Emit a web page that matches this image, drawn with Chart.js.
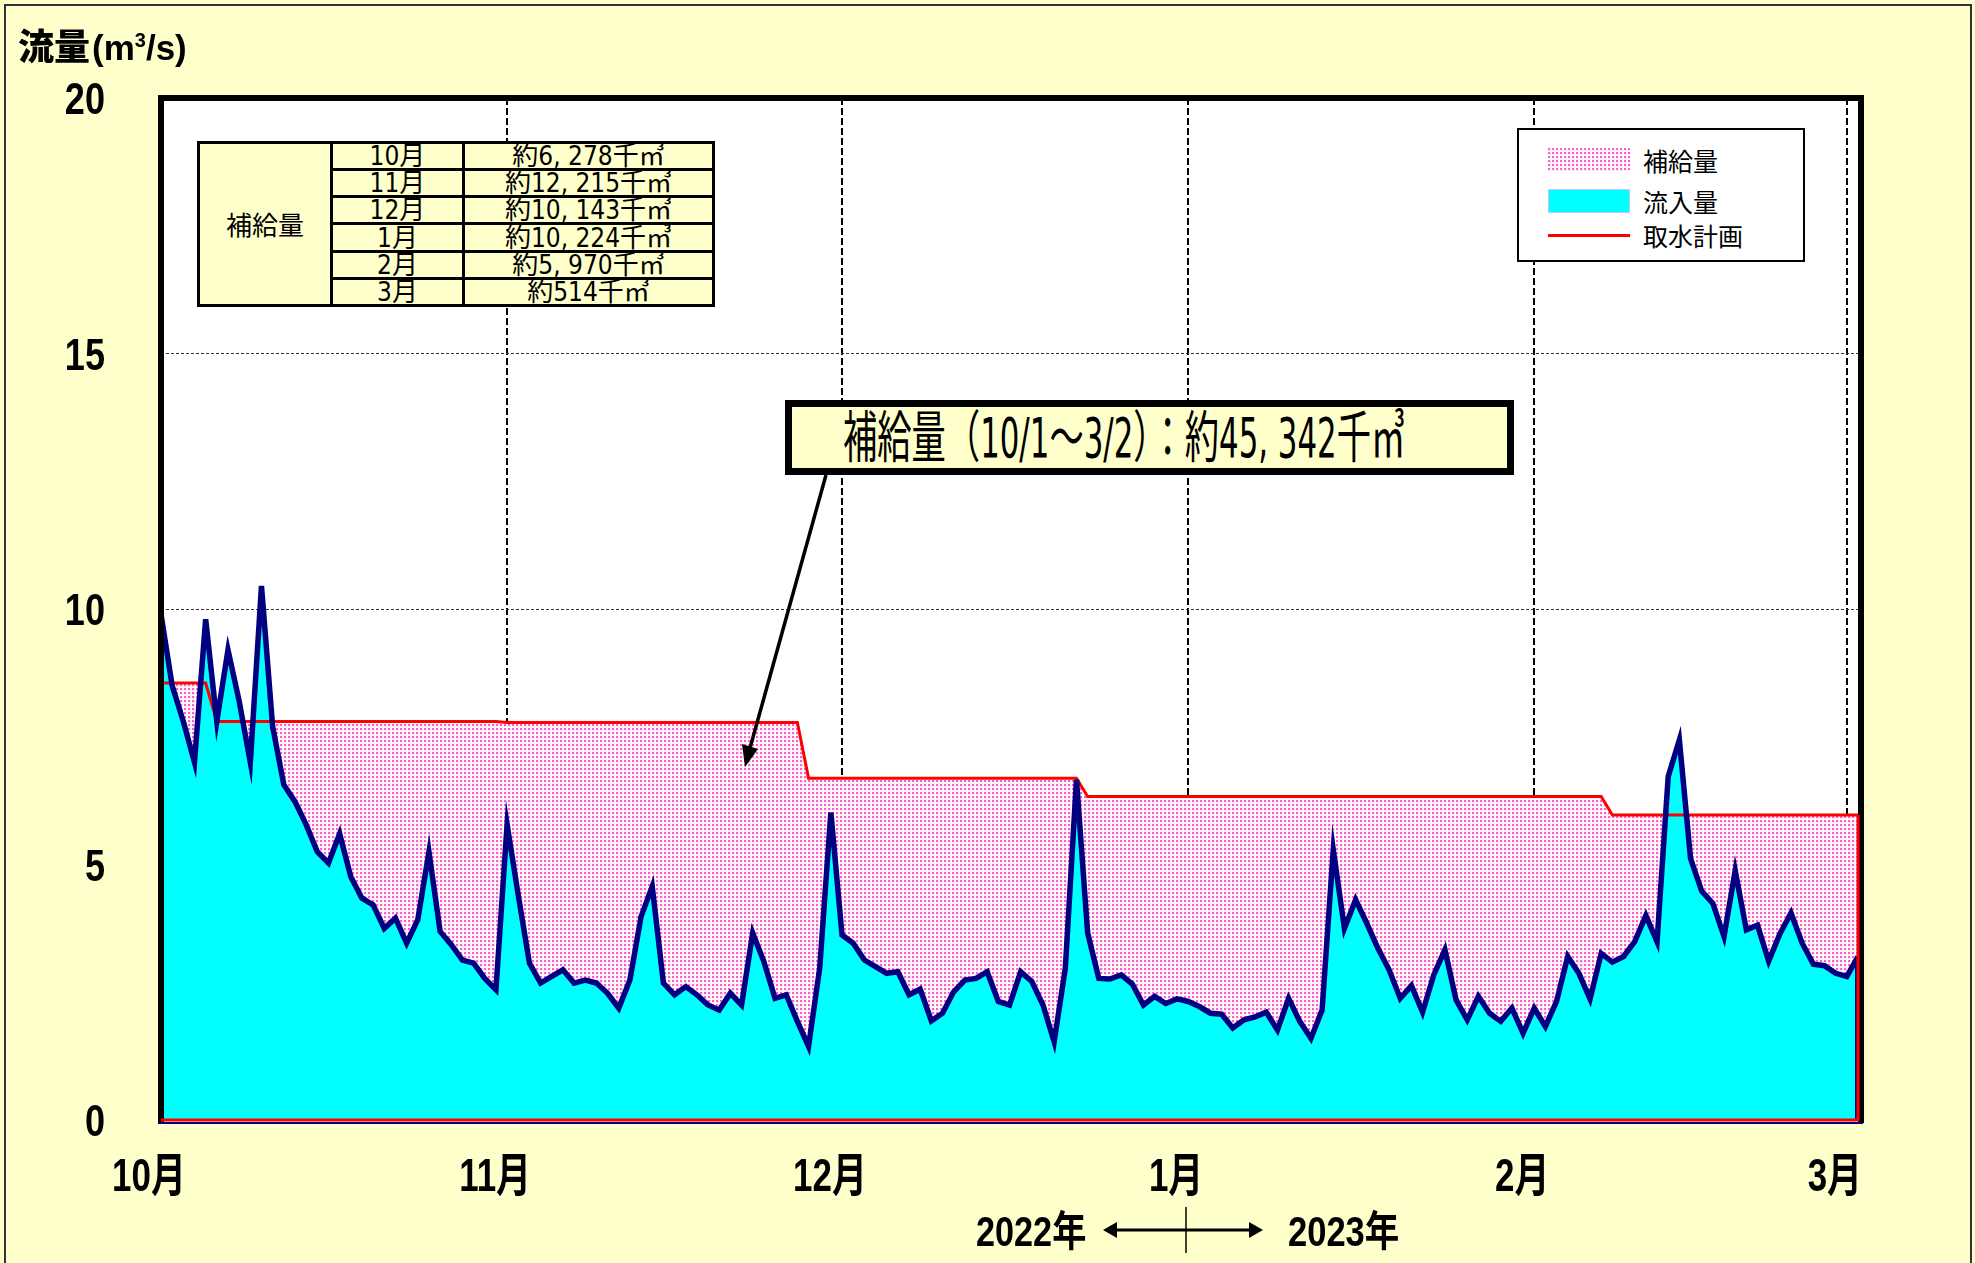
<!DOCTYPE html>
<html lang="ja">
<head>
<meta charset="utf-8">
<title>流量・補給量</title>
<script src="https://cdn.jsdelivr.net/npm/chart.js@4.4.0/dist/chart.umd.min.js"></script>
<style>
  html, body { margin: 0; padding: 0; }
  body {
    width: 1975px; height: 1263px; position: relative; overflow: hidden;
    background: #ffffcc; color: #000;
    font-family: "Liberation Sans Narrow", "DejaVu Sans Condensed", "Noto Sans CJK JP", sans-serif;
  }
  #outer { position: absolute; left: 4px; top: 4px; width: 1968px; height: 1300px;
           border: 2px solid #333; box-sizing: border-box; }
  #wrap { position: absolute; left: 0; top: 0; width: 1975px; height: 1263px; }
  .ov { position: absolute; z-index: 2; white-space: nowrap; }
  .fit { display: inline-block; transform-origin: left center; }

  #ytitle { left: 18px; top: 22px; font-size: 36px; line-height: 44px; }
  #ytitle .cjk { font-family: "Noto Sans CJK JP", sans-serif; font-weight: 900; }
  #ytitle .unit { font-family: "Liberation Sans", sans-serif; font-weight: bold; font-size: 35px; margin-left: 2px; }
  #ytitle sup { font-size: 20px; vertical-align: 13px; line-height: 0; }

  #supply { left: 197px; top: 141px; width: 518px; height: 166px; border-collapse: collapse;
            table-layout: fixed; background: #ffffcc; font-size: 26px; }
  #supply td { border: 3px solid #000; padding: 0; text-align: center; line-height: 22px; height: 21px; }
  #supply td.head { font-family: "Noto Sans CJK JP", sans-serif; font-size: 26px; }

  #legend { left: 1517px; top: 128px; width: 288px; height: 134px; border: 2px solid #000;
            box-sizing: border-box; background: #fff; }
  #legend .sw { position: absolute; left: 29px; width: 82px; height: 24px; }
  #legend .lb { position: absolute; left: 124px; font-family: "Noto Sans CJK JP", sans-serif;
                font-size: 25px; line-height: 28px; }

  #callout { left: 785px; top: 400px; width: 729px; height: 75px; border: 7px solid #000;
             box-sizing: border-box; background: #ffffcc; display: flex; align-items: center; }
  #callout span { margin-left: 51px; font-size: 56px; line-height: 60px; }

  .year { top: 1209px; font-family: "Liberation Sans", "Noto Sans CJK JP", sans-serif;
          font-size: 42px; font-weight: bold; line-height: 46px; }
  #annot { position: absolute; left: 0; top: 0; z-index: 3; pointer-events: none; }
</style>
</head>
<body>
<div id="outer"></div>
<div id="wrap"><canvas id="flowChart"></canvas></div>

<div id="ytitle" class="ov"><span class="cjk">流量</span><span class="unit">(m<sup>3</sup>/s)</span></div>
<table id="supply" class="ov"><tbody id="supplyBody"></tbody></table>
<div id="legend" class="ov"></div>
<div id="callout" class="ov"><span id="calloutText" class="fit" data-w="562"></span></div>
<div class="ov year" style="left:976px"><span id="y2022" class="fit" data-w="110"></span></div>
<div class="ov year" style="left:1288px"><span id="y2023" class="fit" data-w="111"></span></div>

<svg id="annot" width="1975" height="1263">
  <!-- callout arrow -->
  <line x1="826" y1="475" x2="750" y2="748" stroke="#000" stroke-width="3.5"/>
  <polygon points="745,767 758,749 742,744" fill="#000"/>
  <!-- year divider -->
  <line x1="1114" y1="1230" x2="1252" y2="1230" stroke="#000" stroke-width="3"/>
  <polygon points="1103,1230 1117,1222 1117,1238" fill="#000"/>
  <polygon points="1263,1230 1249,1222 1249,1238" fill="#000"/>
  <line x1="1186" y1="1207" x2="1186" y2="1253" stroke="#000" stroke-width="1.5"/>
</svg>

<script>
// Daily inflow (m3/s), 2022-10-01 .. 2023-03-02, one value per day
const INFLOW = [
  9.9, 8.5, 7.8, 7.0, 9.8, 7.8, 9.2, 8.2, 7.0, 10.45,
  7.7, 6.56, 6.23, 5.78, 5.25, 5.03, 5.6, 4.76, 4.34, 4.21,
  3.75, 3.95, 3.46, 3.92, 5.25, 3.69, 3.43, 3.13, 3.07, 2.77,
  2.55, 5.78, 4.4, 3.07, 2.68, 2.81, 2.94, 2.68, 2.74, 2.68,
  2.48, 2.19, 2.74, 3.98, 4.57, 2.68, 2.45, 2.61, 2.45, 2.25,
  2.15, 2.48, 2.25, 3.66, 3.10, 2.38, 2.45, 1.93, 1.44, 2.97,
  6.02, 3.62, 3.46, 3.13, 3.00, 2.87, 2.90, 2.45, 2.56, 1.94,
  2.09, 2.51, 2.74, 2.77, 2.90, 2.32, 2.25, 2.90, 2.71, 2.25,
  1.53, 2.97, 6.66, 3.66, 2.77, 2.76, 2.84, 2.66, 2.25, 2.42,
  2.28, 2.37, 2.32, 2.22, 2.09, 2.07, 1.80, 1.96, 2.02, 2.11,
  1.76, 2.38, 1.93, 1.60, 2.15, 5.29, 3.75, 4.31, 3.85, 3.36,
  2.94, 2.38, 2.63, 2.11, 2.84, 3.33, 2.35, 1.96, 2.42, 2.09,
  1.93, 2.19, 1.70, 2.19, 1.83, 2.32, 3.20, 2.87, 2.37, 3.26,
  3.09, 3.20, 3.49, 4.00, 3.49, 6.72, 7.44, 5.12, 4.48, 4.24,
  3.59, 4.88, 3.72, 3.81, 3.11, 3.64, 4.05, 3.46, 3.05, 3.02,
  2.87, 2.81, 3.20
];

// Intake plan (取水計画): breakpoints as day index / value
const PLAN_DAYS   = [0,    4,    5,    30,   31,   57,   58,   82,   83,   129,  130,  152];
const PLAN_VALUES = [8.55, 8.55, 7.80, 7.80, 7.78, 7.78, 6.69, 6.69, 6.33, 6.33, 5.97, 5.97];

const MONTH_STARTS = [0, 31, 61, 92, 123, 151];
const MONTH_LABELS = ['10月', '11月', '12月', '1月', '2月', '3月'];
const Y_TICKS = [0, 5, 10, 15, 20];

const SUPPLY_MONTHS = ['10月', '11月', '12月', '1月', '2月', '3月'];
const SUPPLY_TEXT = ['約6, 278千㎥', '約12, 215千㎥', '約10, 143千㎥', '約10, 224千㎥', '約5, 970千㎥', '約514千㎥'];
const SUPPLY_TOTAL = '補給量（10/1～3/2）：約45, 342千㎥';
const LEGEND_LABELS = ['補給量', '流入量', '取水計画'];
const YEAR_LABELS = ['2022年', '2023年'];

const NAVY = '#000080';
const CYAN = '#00ffff';
const RED = '#ff0000';
const TICK_FONT = 'bold 44px "Liberation Sans", "Noto Sans CJK JP", sans-serif';
const MONTH_FONT = 'bold 46px "Liberation Sans", "Noto Sans CJK JP", sans-serif';

// pink dotted fill, like Excel's small-dot pattern
function makeDotTile() {
    const c = document.createElement('canvas');
    c.width = 4; c.height = 4;
    const g = c.getContext('2d');
    g.fillStyle = '#ffe4f4';
    g.fillRect(0, 0, 4, 4);
    g.fillStyle = '#ffffff';
    g.fillRect(3, 0, 1, 4);
    g.fillRect(0, 3, 4, 1);
    g.fillStyle = '#ff5fcc';
    g.fillRect(0, 0, 2, 2);
    return c;
}
const dotTile = makeDotTile();
const dotPattern = document.createElement('canvas').getContext('2d').createPattern(dotTile, 'repeat');

// ---- HTML parts: table, legend, callout, years ----
const body = document.getElementById('supplyBody');
SUPPLY_MONTHS.forEach((m, i) => {
    const tr = document.createElement('tr');
    if (i === 0) {
        const h = document.createElement('td');
        h.rowSpan = SUPPLY_MONTHS.length;
        h.className = 'head';
        h.textContent = '補給量';
        h.style.width = '130px';
        tr.appendChild(h);
    }
    const a = document.createElement('td');
    a.textContent = m;
    if (i === 0) a.style.width = '129px';
    const b = document.createElement('td');
    b.textContent = SUPPLY_TEXT[i];
    tr.append(a, b);
    body.appendChild(tr);
});

const legend = document.getElementById('legend');
const swTop = [18, 59, 104];
LEGEND_LABELS.forEach((t, i) => {
    const sw = document.createElement('div');
    sw.className = 'sw';
    sw.style.top = swTop[i] + 'px';
    if (i === 0) {
        sw.style.backgroundImage = 'url(' + dotTile.toDataURL() + ')';
    } else if (i === 1) {
        sw.style.background = CYAN;
        sw.style.boxShadow = 'inset 0 0 0 1px #b8c8ff';
    } else {
        sw.style.height = '3px';
        sw.style.background = RED;
    }
    legend.appendChild(sw);
    const lb = document.createElement('div');
    lb.className = 'lb';
    lb.style.top = (i === 2 ? swTop[i] - 13 : swTop[i] - 2) + 'px';
    lb.textContent = t;
    legend.appendChild(lb);
});

document.getElementById('calloutText').textContent = SUPPLY_TOTAL;
document.getElementById('y2022').textContent = YEAR_LABELS[0];
document.getElementById('y2023').textContent = YEAR_LABELS[1];

// the source uses a squeezed font; squeeze each text to its measured width
function fitAll() {
    document.querySelectorAll('.fit').forEach(el => {
        el.style.transform = 'none';
        el.style.transform = 'scaleX(' + (+el.dataset.w / el.offsetWidth) + ')';
    });
}
fitAll();
if (document.fonts) document.fonts.ready.then(fitAll);

// ---- chart ----
const plotBackground = {
    id: 'plotBackground',
    beforeDraw(chart) {
        const { ctx, chartArea: a } = chart;
        ctx.save();
        ctx.fillStyle = '#ffffff';
        ctx.fillRect(a.left, a.top, a.right - a.left, a.bottom - a.top);
        ctx.restore();
    }
};

// thick frame round the plot, then the area outlines on the bottom / right edges
const plotFrame = {
    id: 'plotFrame',
    afterDatasetsDraw(chart) {
        const { ctx, chartArea: a, scales } = chart;
        ctx.save();
        ctx.strokeStyle = '#000';
        ctx.lineWidth = 6;
        ctx.beginPath();
        ctx.moveTo(a.left, a.bottom + 3);
        ctx.lineTo(a.left, a.top);
        ctx.lineTo(a.right + 3, a.top);
        ctx.lineTo(a.right + 3, a.bottom + 3);
        ctx.stroke();

        const yPlan = scales.y.getPixelForValue(PLAN_VALUES[PLAN_VALUES.length - 1]);
        const yIn = scales.y.getPixelForValue(INFLOW[INFLOW.length - 1]);
        ctx.strokeStyle = NAVY;
        ctx.lineWidth = 2;
        ctx.beginPath();
        ctx.moveTo(a.right - 2, yIn);
        ctx.lineTo(a.right - 2, a.bottom);
        ctx.moveTo(a.left - 3, a.bottom + 3);
        ctx.lineTo(a.right + 5, a.bottom + 3);
        ctx.stroke();
        ctx.strokeStyle = RED;
        ctx.lineWidth = 3;
        ctx.beginPath();
        ctx.moveTo(a.right, yPlan);
        ctx.lineTo(a.right, a.bottom);
        ctx.lineTo(a.left, a.bottom);
        ctx.stroke();
        ctx.restore();
    }
};

// tick labels in a horizontally squeezed face, placed on the axes' own tick positions
function squeezedText(ctx, text, x, y, sx, align) {
    ctx.save();
    ctx.translate(x, y);
    ctx.scale(sx, 1);
    ctx.textAlign = align;
    ctx.textBaseline = 'middle';
    ctx.fillText(text, 0, 0);
    ctx.restore();
}
const squeezedTicks = {
    id: 'squeezedTicks',
    afterDraw(chart) {
        const { ctx, chartArea: a, scales } = chart;
        ctx.save();
        ctx.fillStyle = '#000';
        ctx.font = TICK_FONT;
        scales.y.ticks.forEach(t => {
            squeezedText(ctx, String(t.value), a.left - 56, scales.y.getPixelForValue(t.value) + 4, 0.82, 'right');
        });
        ctx.font = MONTH_FONT;
        scales.x.ticks.forEach((t, i) => {
            squeezedText(ctx, MONTH_LABELS[i], scales.x.getPixelForValue(t.value) - 12, a.bottom + 58, 0.76, 'center');
        });
        ctx.restore();
    }
};

new Chart(document.getElementById('flowChart'), {
    type: 'line',
    data: {
        datasets: [
            {
                label: '流入量',
                data: INFLOW.map((v, i) => ({ x: i, y: v })),
                fill: 'origin',
                backgroundColor: CYAN,
                borderColor: NAVY,
                borderWidth: 5.5,
                pointRadius: 0,
                tension: 0
            },
            {
                label: '取水計画',
                data: PLAN_DAYS.map((d, i) => ({ x: d, y: PLAN_VALUES[i] })),
                fill: 'origin',
                backgroundColor: dotPattern,
                borderColor: RED,
                borderWidth: 3,
                pointRadius: 0,
                tension: 0
            }
        ]
    },
    options: {
        responsive: true,
        maintainAspectRatio: false,
        animation: false,
        devicePixelRatio: 1,
        layout: { padding: { left: 0, right: 117, top: 98, bottom: 0 } },
        plugins: {
            legend: { display: false },
            tooltip: { enabled: false },
            filler: { drawTime: 'beforeDatasetsDraw' }
        },
        scales: {
            x: {
                type: 'linear',
                min: 0,
                max: 152,
                afterBuildTicks: s => { s.ticks = MONTH_STARTS.map(v => ({ value: v })); },
                afterFit: s => { s.height = 143; },
                grid: { color: '#000', lineWidth: 2, drawTicks: false },
                border: { display: false, dash: [7, 3] },
                ticks: { display: false, callback: v => MONTH_LABELS[MONTH_STARTS.indexOf(v)] }
            },
            y: {
                min: 0,
                max: 20,
                afterBuildTicks: s => { s.ticks = Y_TICKS.map(v => ({ value: v })); },
                afterFit: s => { s.width = 161; },
                grid: { color: '#333', lineWidth: 1, drawTicks: false },
                border: { display: false, dash: [3, 2] },
                ticks: { display: false }
            }
        }
    },
    plugins: [plotBackground, plotFrame, squeezedTicks]
});
</script>
</body>
</html>
